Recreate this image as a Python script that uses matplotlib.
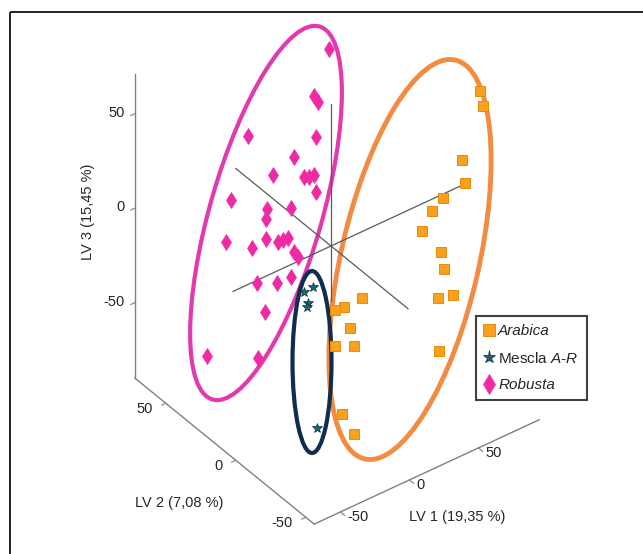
import numpy as np
import matplotlib
matplotlib.use("Agg")
import matplotlib.pyplot as plt
from matplotlib.patches import Ellipse, Rectangle
from matplotlib.lines import Line2D

plt.rcParams['font.family'] = ['Liberation Sans', 'DejaVu Sans']
plt.rcParams['mathtext.fontset'] = 'custom'
plt.rcParams['mathtext.rm'] = 'Liberation Sans'
plt.rcParams['mathtext.it'] = 'Liberation Sans:italic'

# scores, already projected onto the page (3D view, pixel units)
arabica_x = [480, 483, 462, 465, 443, 432, 422, 441, 444, 438, 453, 439,
             362, 344, 335, 350, 335, 354, 342, 354]
arabica_y = [91, 106, 160, 183, 198, 211, 231, 252, 269, 298, 295, 351,
             298, 307, 310, 328, 346, 346, 414, 434]

robusta_x = [329, 314, 318, 248, 316, 294, 273, 304, 309, 314, 316, 231,
             267, 291, 266, 226, 252, 266, 278, 283, 288, 294, 298, 257,
             277, 291, 265, 207, 258]
robusta_y = [49, 96, 102, 136, 137, 157, 175, 177, 177, 175, 192, 200,
             209, 208, 219, 242, 248, 239, 242, 240, 238, 252, 257, 283,
             283, 277, 312, 356, 358]

mescla_x = [304, 313, 308, 307, 317]
mescla_y = [292, 287, 303, 307, 428]

# 3D box limits (LV1, LV2, LV3) and tick values
lv1_lim = (-69, 94)
lv2_lim = (-56, 72)
lv3_lim = (-90, 71)
ticks = [-50, 0, 50]

# view: screen position of origin and unit vectors of the 3 axes
O = np.array([331.0, 246.0])
E1 = np.array([1.38, -0.64])
E2 = np.array([-1.40, -1.14])
E3 = np.array([0.0, -1.89])


def proj(a, b, c):
    p = O + a * E1 + b * E2 + c * E3
    return p[0], p[1]


fig = plt.figure(figsize=(6.43, 5.54), dpi=100)
ax = fig.add_axes([0, 0, 1, 1])
ax.set_xlim(0, 643)
ax.set_ylim(554, 0)
ax.axis('off')

# outer frame
ax.add_patch(Rectangle((10, 12), 700, 600, fill=False, edgecolor='#222222', lw=1.4))

axc = '#808080'
txc = '#262626'
fs = 10.5

# box axes
p0 = proj(lv1_lim[0], lv2_lim[1], lv3_lim[0])
p1 = proj(lv1_lim[0], lv2_lim[1], lv3_lim[1])
ax.plot([p0[0], p1[0]], [p0[1], p1[1]], color=axc, lw=1)
p1 = proj(lv1_lim[0], lv2_lim[0], lv3_lim[0])
ax.plot([p0[0], p1[0]], [p0[1], p1[1]], color=axc, lw=1)
p2 = proj(lv1_lim[1], lv2_lim[0], lv3_lim[0])
ax.plot([p1[0], p2[0]], [p1[1], p2[1]], color=axc, lw=1)

# axes through origin
for a, b in [((-71, 0, 0), (95, 0, 0)), ((0, 68, 0), (0, -55, 0)), ((0, 0, 75), (0, 0, -29))]:
    pa, pb = proj(*a), proj(*b)
    ax.plot([pa[0], pb[0]], [pa[1], pb[1]], color='#5a5a5a', lw=0.9)

# ticks and tick labels
for t in ticks:
    # LV3
    tx, ty = proj(lv1_lim[0], lv2_lim[1], t)
    ux, uy = proj(lv1_lim[0] - 3, lv2_lim[1], t)
    ax.plot([tx, ux], [ty, uy], color=axc, lw=0.8)
    ax.text(tx - 10, ty - 1, str(t), ha='right', va='center', fontsize=fs, color=txc)
    # LV2
    tx, ty = proj(lv1_lim[0], t, lv3_lim[0])
    ux, uy = proj(lv1_lim[0] - 3, t, lv3_lim[0])
    ax.plot([tx, ux], [ty, uy], color=axc, lw=0.8)
    ax.text(tx - 13, ty + 6, str(t), ha='right', va='center', fontsize=fs, color=txc)
    # LV1
    tx, ty = proj(t, lv2_lim[0], lv3_lim[0])
    ux, uy = proj(t, lv2_lim[0] - 3, lv3_lim[0])
    ax.plot([tx, ux], [ty, uy], color=axc, lw=0.8)
    ax.text(tx + 7, ty + 5, str(t), ha='left', va='center', fontsize=fs, color=txc)

ax.text(457, 517, 'LV 1 (19,35 %)', ha='center', va='center', fontsize=fs, color=txc)
ax.text(179, 503, 'LV 2 (7,08 %)', ha='center', va='center', fontsize=fs, color=txc)
ax.text(88, 212, 'LV 3 (15,45 %)', ha='center', va='center', fontsize=fs, color=txc,
        rotation=90)

# group ellipses
ax.add_patch(Ellipse((410, 259.5), 409, 138, angle=-77.2, fill=False,
                     edgecolor='#F28C42', lw=3.5))
ax.add_patch(Ellipse((266, 213), 388, 112, angle=-74, fill=False,
                     edgecolor='#E23AAE', lw=3.0))
ax.add_patch(Ellipse((312, 362), 39, 182, angle=0, fill=False,
                     edgecolor='#0E2D50', lw=3.0))

# points
sq = dict(marker='s', ms=6.5, mfc='#F9A11B', mec='#E88A0C', mew=0.7, ls='none')
dm = dict(marker='d', ms=7.8, mfc='#F02AA4', mec='#F02AA4', mew=0.5, ls='none')
st = dict(marker='*', ms=7, mfc='#1F6470', mec='#0C3038', mew=0.5, ls='none')
ax.plot(arabica_x, arabica_y, **sq)
ax.plot(robusta_x, robusta_y, **dm)
ax.plot(mescla_x, mescla_y, **st)

handles = [Line2D([], [], **sq), Line2D([], [], **st), Line2D([], [], **dm)]
for h in handles:
    h.set_markersize(h.get_markersize() * 1.35)
labels = ['Arabica', 'Mescla $\\mathit{A}$-$\\mathit{R}$', 'Robusta']
leg = ax.legend(handles, labels, loc='upper left', bbox_to_anchor=(476, 316),
                bbox_transform=ax.transData, fontsize=11, frameon=True,
                fancybox=False, edgecolor='#111111', borderpad=0.55,
                labelspacing=0.8, handlelength=0.6, handletextpad=0.3,
                borderaxespad=0)
leg.get_frame().set_linewidth(1.5)
leg.get_texts()[0].set_fontstyle('italic')
leg.get_texts()[2].set_fontstyle('italic')
for t in leg.get_texts():
    t.set_color(txc)

fig.savefig('out.png', dpi=100)
